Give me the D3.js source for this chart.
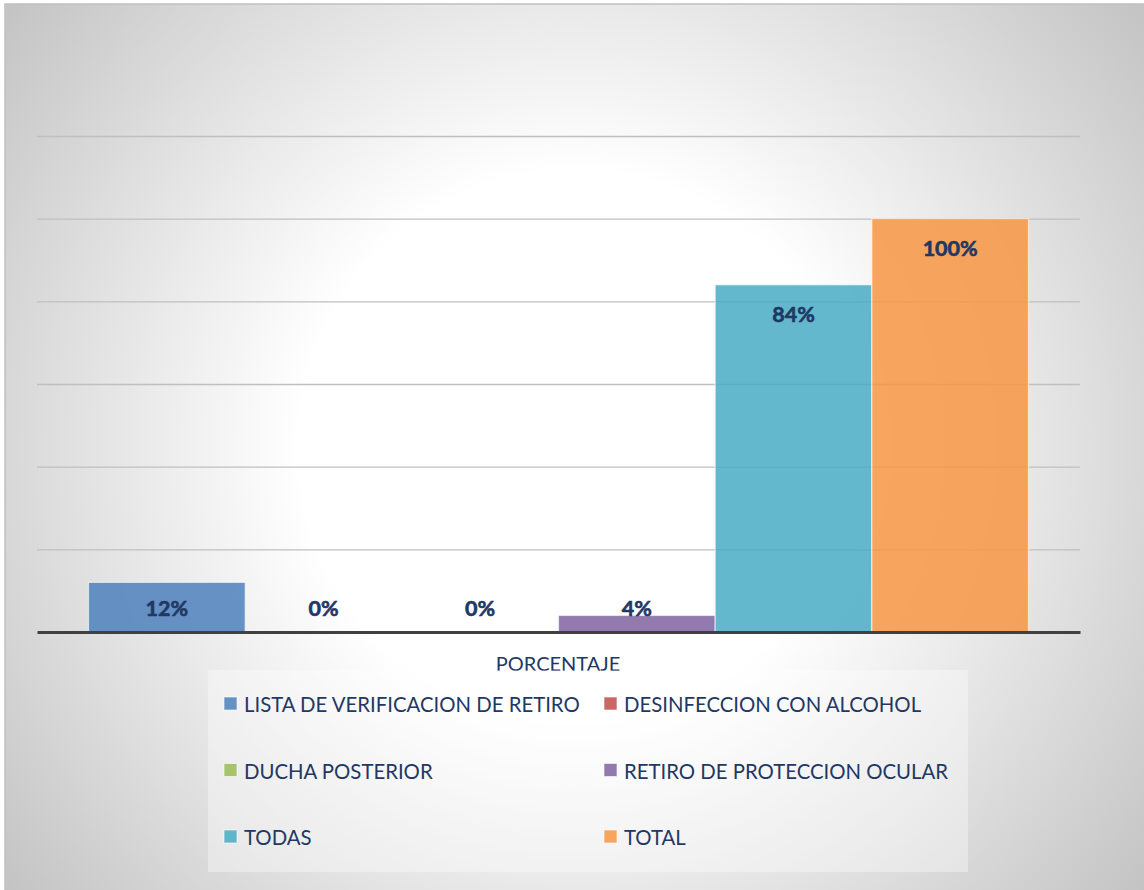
<!DOCTYPE html>
<html>
<head>
<meta charset="utf-8">
<script src="https://cdn.jsdelivr.net/npm/d3@7"></script>
<style>
  html, body { margin: 0; padding: 0; background: #ffffff; }
  svg { display: block; }
  text { font-family: Lato, "Open Sans", "Liberation Sans", sans-serif; }
</style>
</head>
<body>
<svg id="chart" width="1144" height="890"></svg>
<script>
// ---- data ----
const categories = ["PORCENTAJE"];
const seriesNames = [
  "LISTA DE VERIFICACION DE RETIRO",
  "DESINFECCION CON ALCOHOL",
  "DUCHA POSTERIOR",
  "RETIRO DE PROTECCION OCULAR",
  "TODAS",
  "TOTAL"
];
const seriesValues = [0.12, 0.00, 0.00, 0.04, 0.84, 1.00];
const seriesColors = ["#4F81BD", "#C0504D", "#9BBB59", "#8064A2", "#4BACC6", "#F79646"];
const yTicks = [0, 0.2, 0.4, 0.6, 0.8, 1.0, 1.2];

// ---- layout ----
const W = 1144, H = 890;
const plot = { left: 37, right: 1080, top: 136, bottom: 632 };
const textColor = "#1F3864";

const svg = d3.select("#chart");
const defs = svg.append("defs");
const grad = defs.append("radialGradient")
  .attr("id", "bg").attr("gradientUnits", "userSpaceOnUse")
  .attr("cx", 575).attr("cy", 447).attr("r", 725);
grad.append("stop").attr("offset", 0).attr("stop-color", "#ffffff");
grad.append("stop").attr("offset", 0.38).attr("stop-color", "#ffffff");
grad.append("stop").attr("offset", 1).attr("stop-color", "#c3c3c3");

svg.append("rect").attr("x", 5).attr("y", 4).attr("width", W).attr("height", H)
  .attr("fill", "url(#bg)").attr("stroke", "#c0c0c0").attr("stroke-width", 1.5);

// scales
const y = d3.scaleLinear().domain([0, 1.2]).range([plot.bottom, plot.top]);
const x0 = d3.scaleBand().domain(categories).range([plot.left, plot.right])
  .paddingInner(0).paddingOuter(0.0548);
const x1 = d3.scaleBand().domain(seriesNames).range([0, x0.bandwidth()]).padding(0);

// gridlines
const grid = d3.axisLeft(y).tickValues(yTicks.filter(d => d > 0))
  .tickSize(-(plot.right - plot.left)).tickFormat("");
const gg = svg.append("g").attr("transform", `translate(${plot.left},0)`).call(grid);
gg.select(".domain").remove();
gg.selectAll("line").attr("stroke", "#bfbfbf").attr("stroke-width", 1.3);

// bars
const data = seriesNames.map((n, i) => ({ name: n, value: seriesValues[i], color: seriesColors[i] }));
const cat = svg.append("g").attr("transform", `translate(${x0(categories[0])},0)`);
cat.selectAll("rect.bar").data(data).join("rect")
  .attr("class", "bar")
  .attr("x", d => x1(d.name))
  .attr("y", d => y(d.value))
  .attr("width", x1.bandwidth())
  .attr("height", d => y(0) - y(d.value))
  .attr("fill", d => d.color).attr("fill-opacity", 0.86)
  .attr("stroke", "#ffffff").attr("stroke-opacity", 0.6).attr("stroke-width", 1.2);

// baseline axis
const xAxis = d3.axisBottom(x0).tickSize(0).tickFormat("");
const xa = svg.append("g").attr("transform", `translate(0,${y(0)})`).call(xAxis);
xa.select(".domain").attr("stroke", "#404040").attr("stroke-width", 3);

// data labels
cat.selectAll("text.lbl").data(data).join("text")
  .attr("class", "lbl")
  .attr("x", d => x1(d.name) + x1.bandwidth() / 2)
  .attr("y", d => Math.min(y(d.value) + 29, y(0) - 24))
  .attr("text-anchor", "middle").attr("dominant-baseline", "central")
  .attr("font-weight", "bold").attr("font-size", 21.5)
  .attr("fill", textColor).attr("stroke", textColor).attr("stroke-width", 0.6)
  .text(d => d3.format(".0%")(d.value));

// axis title
svg.append("text").attr("x", 558).attr("y", 663)
  .attr("text-anchor", "middle").attr("dominant-baseline", "central")
  .attr("font-size", 20).attr("fill", textColor)
  .text(categories[0]);

// legend
const lg = svg.append("g");
lg.append("rect").attr("x", 208).attr("y", 670).attr("width", 760).attr("height", 202)
  .attr("fill", "#ffffff").attr("fill-opacity", 0.35);
const items = lg.selectAll("g.item").data(data).join("g")
  .attr("class", "item")
  .attr("transform", (d, i) => `translate(${224 + (i % 2) * 380},${704 + Math.floor(i / 2) * 66.5})`);
items.append("rect").attr("x", 0).attr("y", -7).attr("width", 13).attr("height", 13)
  .attr("fill", d => d.color).attr("fill-opacity", 0.86)
  .attr("stroke", "#ffffff").attr("stroke-opacity", 0.6);
const ltxt = items.append("text").attr("x", 20).attr("y", 0)
  .attr("dominant-baseline", "central").attr("fill", textColor)
  .attr("font-size", 100)
  .text(d => d.name);
// fit legend font so widest entry matches reference width (~336px)
const w0 = ltxt.nodes()[0].getComputedTextLength();
const fs = 100 * 336 / w0;
ltxt.attr("font-size", fs);
</script>
</body>
</html>
